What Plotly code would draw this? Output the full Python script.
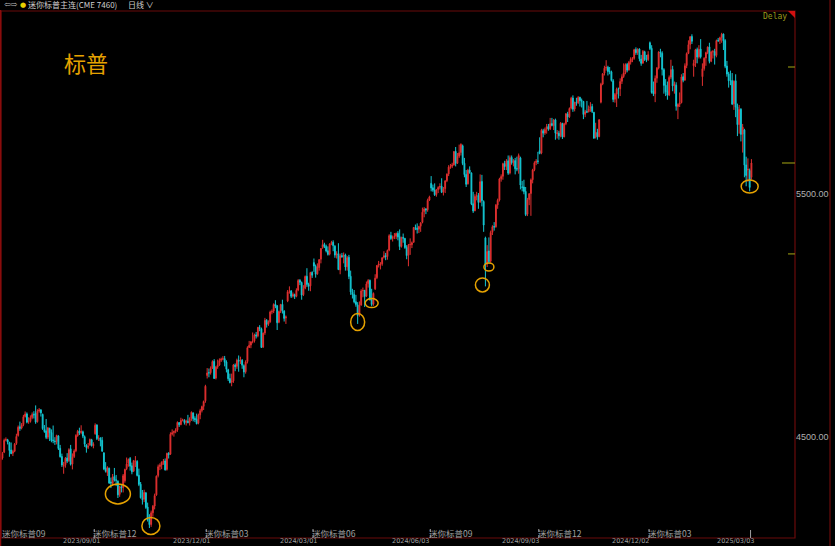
import pandas as pd
import plotly.graph_objects as go

# ---------------- DATA: E-mini S&P front month, daily (open, high, low, close) ----------------
m2306 = [(4406,4420,4398,4411),(4412,4437,4405,4431),(4436,4492,4432,4485)]
m2307 = [(4486,4497,4481,4488),(4487,4491,4468,4478),(4476,4479,4417,4443),(4445,4476,4428,4430),
         (4432,4446,4420,4439),(4440,4474,4436,4469),(4472,4512,4466,4501),(4505,4546,4500,4539),
         (4541,4562,4524,4534),(4536,4556,4530,4549),(4550,4590,4543,4582),(4583,4604,4579,4593),
         (4594,4600,4555,4560),(4562,4580,4553,4562),(4563,4588,4558,4578),(4579,4600,4572,4591),
         (4592,4605,4575,4590),(4597,4629,4553,4560),(4562,4613,4558,4605),(4606,4618,4599,4610)]
m2308 = [(4610,4614,4583,4598),(4592,4595,4528,4533),(4530,4548,4516,4521),(4524,4573,4490,4497),
         (4498,4540,4490,4536),(4534,4537,4482,4516),(4517,4530,4477,4484),(4486,4546,4473,4484),
         (4482,4498,4466,4480),(4480,4508,4468,4505),(4503,4506,4445,4451),(4452,4466,4414,4417),
         (4418,4430,4375,4383),(4378,4396,4347,4382),(4384,4416,4372,4411),(4412,4432,4391,4399),
         (4401,4452,4396,4446),(4450,4466,4381,4386),(4387,4431,4365,4415),(4418,4448,4412,4441),
         (4442,4510,4436,4505),(4504,4528,4500,4522),(4523,4537,4507,4515)]
m2309 = [(4517,4547,4510,4522),(4520,4525,4494,4502),(4500,4505,4458,4469),(4466,4469,4434,4455),
         (4456,4474,4449,4460),(4465,4492,4463,4489),(4487,4491,4459,4463),(4463,4477,4452,4468),
         (4512,4555,4508,4547),(4548,4551,4486,4492),(4493,4506,4482,4494),(4495,4497,4460,4483),
         (4485,4499,4438,4440),(4433,4436,4362,4367),(4370,4395,4352,4357),(4352,4378,4338,4373),
         (4370,4372,4305,4309),(4313,4331,4288,4309),(4307,4346,4300,4334),(4336,4371,4315,4321)]
m2310 = [(4322,4342,4296,4320),(4316,4320,4247,4260),(4262,4298,4252,4294),(4293,4300,4270,4289),
         (4290,4346,4270,4339),(4318,4368,4310,4365),(4368,4414,4362,4387),(4390,4410,4376,4406),
         (4410,4416,4360,4378),(4380,4393,4345,4355),(4358,4404,4354,4401),(4398,4420,4375,4399),
         (4398,4403,4336,4340),(4341,4368,4296,4303),(4304,4313,4245,4248),(4246,4280,4220,4240),
         (4242,4281,4230,4270),(4268,4272,4202,4208),(4210,4228,4150,4158),(4160,4180,4123,4137),
         (4138,4195,4128,4186),(4186,4218,4170,4213)]
m2311 = [(4214,4265,4200,4257),(4260,4340,4256,4337),(4340,4385,4332,4376),(4377,4390,4362,4382),
         (4383,4398,4366,4395),(4396,4408,4384,4399),(4400,4410,4360,4363),(4365,4434,4360,4431),
         (4432,4436,4410,4425),(4428,4518,4425,4510),(4511,4530,4505,4516),(4517,4525,4500,4521),
         (4522,4535,4514,4527),(4528,4563,4520,4559),(4558,4560,4540,4549),(4550,4578,4547,4567),
         (4568,4574,4563,4569),(4568,4572,4550,4558),(4559,4570,4546,4563),(4564,4590,4555,4558),
         (4559,4580,4546,4575)]
m2312 = [(4576,4604,4565,4601),(4598,4600,4563,4574),(4575,4584,4560,4571),(4572,4595,4551,4553),
         (4556,4595,4551,4589),(4590,4615,4572,4607),(4608,4628,4600,4624),(4625,4649,4610,4645),
         (4648,4714,4640,4708),(4752,4783,4740,4763),(4764,4781,4745,4763),(4764,4790,4756,4782),
         (4783,4815,4779,4810),(4811,4820,4738,4740),(4742,4792,4736,4787),(4788,4818,4780,4795),
         (4796,4823,4792,4814),(4815,4826,4808,4820),(4821,4832,4815,4821),(4822,4833,4790,4807)]
m2401 = [(4808,4815,4765,4778),(4776,4780,4730,4739),(4740,4760,4720,4723),(4724,4760,4708,4730),
         (4730,4800,4722,4796),(4795,4802,4770,4789),(4790,4822,4780,4815),(4816,4835,4768,4811),
         (4812,4830,4800,4815),(4815,4820,4780,4795),(4793,4798,4745,4767),(4768,4815,4760,4808),
         (4810,4873,4802,4867),(4868,4895,4866,4877),(4878,4894,4865,4891),(4892,4930,4885,4893),
         (4895,4925,4888,4919),(4920,4932,4905,4915),(4916,4953,4910,4951),(4950,4960,4935,4947),
         (4945,4950,4866,4868)]
m2402 = [(4870,4930,4866,4927),(4928,4990,4920,4980),(4980,4985,4950,4963),(4964,4980,4957,4973),
         (4974,5020,4970,5014),(5015,5025,5005,5016),(5018,5050,5010,5045),(5046,5063,5030,5038),
         (5040,5043,4940,4970),(4972,5020,4968,5016),(5017,5048,5010,5045),(5046,5065,5008,5020),
         (5018,5022,4975,4988),(4990,5000,4965,4994),(5060,5105,5055,5098),(5100,5120,5090,5100),
         (5101,5105,5072,5079),(5080,5095,5074,5087),(5086,5090,5068,5078),(5079,5112,5075,5104)]
m2403 = [(5105,5150,5100,5144),(5145,5150,5125,5137),(5136,5140,5065,5084),(5086,5125,5080,5110),
         (5112,5165,5108,5161),(5162,5195,5118,5128),(5128,5135,5102,5120),(5122,5180,5100,5177),
         (5178,5182,5155,5166),(5218,5235,5180,5204),(5203,5210,5156,5170),(5172,5215,5168,5200),
         (5198,5233,5185,5230),(5232,5278,5215,5276),(5280,5312,5275,5292),(5293,5300,5278,5284),
         (5285,5292,5260,5266),(5267,5285,5247,5252),(5253,5298,5248,5295),(5296,5308,5290,5301)]
m2404 = [(5302,5310,5265,5288),(5286,5290,5238,5249),(5250,5265,5235,5254),(5255,5298,5188,5189),
         (5188,5255,5170,5246),(5247,5258,5238,5242),(5243,5260,5215,5249),(5250,5255,5185,5200),
         (5201,5245,5185,5238),(5240,5250,5150,5161),(5162,5185,5085,5097),(5096,5110,5070,5086),
         (5087,5105,5050,5056),(5057,5085,5036,5045),(5044,5055,4965,5000),(5002,5058,4995,5042),
         (5043,5108,5040,5101),(5102,5115,5075,5103),(5104,5105,5035,5078),(5080,5140,5076,5130),
         (5131,5150,5115,5144),(5145,5148,5062,5064)]
m2405 = [(5066,5110,5038,5045),(5047,5095,5040,5091),(5110,5170,5105,5154),(5156,5208,5150,5206),
         (5207,5225,5198,5212),(5210,5220,5190,5212),(5213,5240,5205,5238),(5240,5265,5235,5246),
         (5247,5258,5228,5242),(5243,5272,5230,5268),(5270,5335,5265,5329),(5330,5345,5312,5317),
         (5318,5330,5305,5322),(5323,5340,5315,5326),(5327,5342,5315,5338),(5339,5348,5310,5324),
         (5325,5355,5270,5284),(5285,5325,5280,5321),(5322,5338,5300,5319),(5318,5320,5275,5280),
         (5281,5290,5232,5247),(5248,5295,5203,5290)]
m2406 = [(5292,5318,5250,5293),(5292,5305,5278,5300),(5302,5365,5300,5363),(5362,5375,5352,5360),
         (5360,5380,5338,5355),(5356,5370,5340,5367),(5368,5385,5345,5381),(5384,5445,5380,5426),
         (5428,5447,5405,5439),(5440,5442,5418,5435),(5436,5482,5428,5475),(5476,5494,5472,5489),
         (5545,5575,5512,5526),(5527,5540,5510,5517),(5518,5545,5493,5498),(5499,5522,5490,5519),
         (5520,5533,5505,5528),(5529,5545,5520,5532),(5533,5566,5505,5508)]
m2407 = [(5509,5530,5495,5522),(5523,5558,5505,5555),(5556,5586,5550,5583),(5584,5620,5575,5612),
         (5613,5625,5605,5615),(5616,5630,5608,5620),(5621,5678,5618,5676),(5677,5695,5615,5627),
         (5628,5670,5625,5656),(5657,5705,5650,5671),(5672,5710,5660,5706),(5700,5705,5620,5627),
         (5628,5650,5570,5581),(5582,5600,5530,5541),(5543,5605,5540,5599),(5600,5615,5585,5589),
         (5588,5590,5455,5460),(5461,5510,5423,5431),(5432,5500,5430,5491),(5492,5510,5475,5494),
         (5495,5505,5440,5466),(5468,5582,5465,5552)]
m2408 = [(5553,5580,5450,5473),(5470,5475,5345,5373),(5320,5325,5120,5210),(5212,5290,5200,5264),
         (5266,5322,5214,5222),(5224,5350,5218,5342),(5343,5372,5332,5366),(5367,5385,5350,5365),
         (5366,5460,5362,5455),(5456,5482,5440,5475),(5476,5568,5470,5563),(5564,5582,5552,5573),
         (5574,5630,5560,5626),(5627,5638,5600,5614),(5615,5645,5600,5637),(5638,5660,5580,5587),
         (5588,5660,5582,5651),(5652,5660,5622,5630),(5631,5645,5615,5638),(5639,5650,5582,5605),
         (5606,5655,5595,5604),(5605,5668,5585,5660)]
m2409 = [(5650,5655,5520,5538),(5530,5555,5512,5529),(5530,5560,5500,5511),(5512,5530,5410,5416),
         (5418,5485,5410,5477),(5478,5505,5455,5502),(5503,5565,5411,5559),(5560,5605,5545,5600),
         (5601,5636,5595,5630),(5631,5645,5620,5636),(5637,5675,5625,5636),(5680,5735,5665,5668),
         (5670,5770,5665,5764),(5762,5770,5735,5752),(5753,5775,5745,5767),(5768,5790,5750,5779),
         (5780,5790,5762,5769),(5770,5815,5765,5791),(5792,5815,5780,5784),(5783,5810,5765,5806)]
m2410 = [(5807,5812,5725,5752),(5750,5765,5730,5753),(5752,5762,5725,5741),(5742,5798,5735,5793),
         (5792,5795,5728,5736),(5737,5795,5735,5791),(5792,5835,5785,5832),(5831,5840,5798,5819),
         (5820,5858,5815,5854),(5855,5902,5850,5896),(5897,5908,5840,5851),(5852,5882,5842,5879),
         (5880,5898,5865,5877),(5878,5905,5872,5899),(5900,5902,5862,5886),(5887,5895,5858,5884),
         (5883,5885,5810,5829),(5830,5848,5818,5840),(5841,5885,5835,5839),(5840,5866,5838,5852),
         (5853,5880,5840,5861),(5862,5873,5835,5841),(5838,5840,5728,5732)]
m2411 = [(5735,5795,5730,5756),(5755,5770,5725,5737),(5738,5810,5735,5807),(5880,5960,5875,5954),
         (5955,6000,5950,5997),(6000,6030,5990,6020),(6021,6053,6010,6023),(6024,6030,5990,6006),
         (6007,6025,5995,6006),(6005,6010,5965,5969),(5968,5975,5880,5891),(5892,5918,5878,5912),
         (5913,5940,5860,5934),(5935,5940,5895,5934),(5935,5978,5905,5965),(5966,5995,5955,5985),
         (5986,6040,5980,6001),(6002,6040,5995,6035),(6036,6042,6003,6012),(6013,6050,6010,6044)]
m2412 = [(6045,6065,6035,6057),(6056,6066,6045,6060),(6061,6100,6055,6096),(6097,6106,6075,6084),
         (6085,6102,6075,6098),(6099,6102,6048,6059),(6058,6075,6030,6040),(6041,6095,6038,6089),
         (6088,6092,6050,6056),(6057,6075,6045,6055),(6056,6090,6050,6076),(6125,6130,6095,6101),
         (6102,6115,5915,5920),(5925,5965,5905,5914),(5915,5990,5880,5978),(5979,6025,5960,6020),
         (6021,6090,6015,6086),(6087,6100,6065,6083),(6082,6090,5990,6015),(6014,6020,5915,5949),
         (5950,5975,5905,5923)]
m2501 = [(5925,5965,5890,5909),(5910,5990,5905,5982),(5983,6055,5975,6014),(6015,6030,5925,5947),
         (5948,5965,5915,5955),(5950,5962,5845,5863),(5862,5875,5810,5870),(5871,5920,5860,5877),
         (5878,5995,5875,5984),(5985,6000,5962,5970),(5971,6040,5968,6030),(6031,6085,6020,6080),
         (6081,6135,6078,6117),(6118,6152,6098,6150),(6151,6160,6120,6131),(6030,6055,5985,6040),
         (6041,6100,6025,6096),(6097,6105,6040,6066),(6067,6115,6060,6098),(6099,6140,6060,6067)]
m2502 = [(5985,6040,5947,6018),(6019,6065,6010,6061),(6062,6088,6030,6084),(6085,6110,6078,6107),
         (6108,6125,6040,6048),(6049,6092,6045,6087),(6088,6095,6060,6088),(6089,6100,6035,6072),
         (6073,6138,6065,6134),(6135,6145,6128,6134),(6135,6150,6120,6146),(6147,6166,6125,6160),
         (6161,6163,6095,6133),(6134,6140,6020,6028),(6029,6050,5985,5996),(5997,6005,5940,5968),
         (5969,6010,5950,5968),(5969,6000,5868,5872),(5873,5970,5848,5966)]
m2503 = [(5968,5995,5818,5859),(5860,5874,5740,5787),(5788,5868,5750,5850),(5851,5855,5718,5747),
         (5748,5790,5672,5777),(5765,5770,5570,5620),(5621,5655,5533,5577),(5600,5648,5552,5603),
         (5598,5606,5512,5528),(5570,5645,5560,5629)]

months = [m2306, m2307, m2308, m2309, m2310, m2311, m2312, m2401, m2402, m2403, m2404,
          m2405, m2406, m2407, m2408, m2409, m2410, m2411, m2412, m2501, m2502, m2503]

first_day, last_day = "2023-06-28", "2025-03-14"
exchange_holidays = ["2023-07-04", "2023-09-04", "2023-11-23", "2023-12-25", "2024-01-01",
                     "2024-01-15", "2024-02-19", "2024-03-29", "2024-05-27", "2024-06-19",
                     "2024-07-04", "2024-09-02", "2024-11-28", "2024-12-25", "2025-01-01",
                     "2025-01-09", "2025-01-20", "2025-02-17"]

# contract rolls of the continuous series and their labels
roll_dates = ["2023-09-14", "2023-12-14", "2024-03-14", "2024-06-20", "2024-09-18", "2024-12-17"]
roll_names = ["迷你标普12", "迷你标普03", "迷你标普06", "迷你标普09", "迷你标普12", "迷你标普03"]
first_contract = "迷你标普09"
last_roll_date = "2025-03-14"

date_ticks = ["2023-09-01", "2023-12-01", "2024-03-01", "2024-06-03", "2024-09-03",
              "2024-12-02", "2025-03-03"]

y_ticks = [4500, 5500]
y_ticktext = ["4500.00", "5500.00"]

# hand-drawn circles around lows: (date, price)
circle_dates = ["2023-10-03", "2023-10-27", "2024-04-19", "2024-05-01", "2024-08-05",
                "2024-08-07", "2025-03-13"]
circle_prices = [4264, 4132, 4973, 5051, 5126, 5200, 5532]
side_marks = [6025, 5254]   # small price markers on the right edge

# ---------------- build ----------------
rows = [r for m in months for r in m]
days = [d for d in pd.bdate_range(first_day, last_day)
        if d.strftime("%Y-%m-%d") not in set(exchange_holidays)]
n = min(len(days), len(rows))
rows, days = rows[:n], days[:n]
day_str = [d.strftime("%Y-%m-%d") for d in days]
idx = {s: i for i, s in enumerate(day_str)}
xs = list(range(n))
opens = [r[0] for r in rows]
highs = [r[1] for r in rows]
lows = [r[2] for r in rows]
closes = [r[3] for r in rows]

W, H = 835, 546
PL, PR, PT, PB = 1, 795, 11, 538          # plot area in pixels
X0, X1 = 0.2, 453.9
Y0, Y1 = 4082, 6256

def px_x(x):
    return (x - PL) / (PR - PL)

def px_y(y):
    return 1 - (y - PT) / (PB - PT)

RED = "#e03030"
CYAN = "#14c6d2"
BORDER = "#6a0a0a"
GOLD = "#e6a200"
GREY = "#a0a0a0"
OLIVE = "#8c8c10"

fig = go.Figure()
fig.add_trace(go.Candlestick(
    x=xs, open=opens, high=highs, low=lows, close=closes,
    increasing=dict(line=dict(color=RED, width=1), fillcolor=RED),
    decreasing=dict(line=dict(color=CYAN, width=1), fillcolor=CYAN),
    whiskerwidth=0, hoverinfo="skip", showlegend=False))

shapes = []
annotations = []

# plot frame
shapes.append(dict(type="rect", xref="paper", yref="paper", x0=0, x1=1, y0=0, y1=1,
                   line=dict(color=BORDER, width=1.2), layer="above"))
shapes.append(dict(type="line", xref="paper", yref="paper", x0=px_x(830), x1=px_x(830),
                   y0=px_y(0), y1=px_y(546), line=dict(color=BORDER, width=1.2)))
shapes.append(dict(type="line", xref="paper", yref="paper", x0=px_x(0.5), x1=px_x(0.5),
                   y0=px_y(10), y1=px_y(546), line=dict(color="#8a0c0c", width=1.5)))
# red corner triangle
shapes.append(dict(type="path", xref="paper", yref="paper",
                   path=f"M {px_x(788)} {px_y(11)} L {px_x(795)} {px_y(11)} L {px_x(795)} {px_y(18)} Z",
                   fillcolor="#d01010", line=dict(width=0)))

# circles (pixel sizes, anchored at the low they mark)
circle_px = [(25, 20, 0), (18, 17, 1.5), (14, 17, 0), (13, 9, 0), (14, 14, -3), (10, 8, 0), (17, 13, 0)]
for (d, p), (w, h, dx) in zip(zip(circle_dates, circle_prices), circle_px):
    shapes.append(dict(type="circle", xref="x", yref="y", xsizemode="pixel", ysizemode="pixel",
                       xanchor=idx[d], yanchor=p, x0=dx - w / 2, x1=dx + w / 2, y0=-h / 2, y1=h / 2,
                       line=dict(color=GOLD, width=1.5)))

# right-edge price markers
last_close = closes[-1]
shapes.append(dict(type="line", xref="paper", yref="y", x0=px_x(782), x1=px_x(795),
                   y0=last_close, y1=last_close, line=dict(color=OLIVE, width=1.2)))
for p in side_marks:
    shapes.append(dict(type="line", xref="paper", yref="y", x0=px_x(788), x1=px_x(795),
                       y0=p, y1=p, line=dict(color=OLIVE, width=1.2)))

# contract labels along the bottom (inside the frame)
lab_font = dict(family="Noto Sans CJK SC", size=8.5, color=GREY)
annotations.append(dict(x=px_x(1), y=px_y(533), xref="paper", yref="paper", text=first_contract,
                        showarrow=False, xanchor="left", yanchor="middle", borderpad=0, font=lab_font))
for d, name in zip(roll_dates, roll_names):
    xi = idx[d] - 0.5
    shapes.append(dict(type="line", xref="x", yref="paper", x0=xi, x1=xi, y0=px_y(538), y1=px_y(529),
                       line=dict(color=GREY, width=1, dash="dot")))
    annotations.append(dict(x=xi, y=px_y(533), xref="x", yref="paper", text=name, showarrow=False,
                            xanchor="left", yanchor="middle", xshift=-2, borderpad=0, font=lab_font))
xi = idx[last_roll_date] - 0.5
shapes.append(dict(type="line", xref="x", yref="paper", x0=xi, x1=xi, y0=px_y(538), y1=px_y(530),
                   line=dict(color=GREY, width=1)))

# date labels (bottom row, below the frame)
for d in date_ticks:
    annotations.append(dict(x=idx[d], y=px_y(546), xref="x", yref="paper", text=d.replace("-", "/"),
                            showarrow=False, xanchor="center", yanchor="bottom", borderpad=0,
                            font=dict(family="DejaVu Sans", size=6.5, color=GREY)))

# header
hdr = dict(family="Noto Sans CJK SC", size=8, color="#cfcfcf")
annotations += [
    dict(x=px_x(2), y=px_y(5), xref="paper", yref="paper", text="⇦⇨", showarrow=False,
         xanchor="left", yanchor="middle", font=dict(family="DejaVu Sans", size=8, color="#bbbbbb")),
    dict(x=px_x(18), y=px_y(5), xref="paper", yref="paper", text="●", showarrow=False,
         xanchor="left", yanchor="middle", font=dict(family="DejaVu Sans", size=7, color="#e8d000")),
    dict(x=px_x(26), y=px_y(5), xref="paper", yref="paper", text="迷你标普主连(CME 7460)",
         showarrow=False, xanchor="left", yanchor="middle", font=hdr),
    dict(x=px_x(126), y=px_y(5), xref="paper", yref="paper", text="日线 ∨", showarrow=False,
         xanchor="left", yanchor="middle", font=hdr),
    dict(x=px_x(789), y=px_y(17), xref="paper", yref="paper", text="Delay", showarrow=False,
         xanchor="right", yanchor="middle", font=dict(family="DejaVu Sans Mono", size=8, color="#9a9a1a")),
    dict(x=px_x(86), y=px_y(62), xref="paper", yref="paper", text="标普", showarrow=False,
         xanchor="center", yanchor="middle", font=dict(family="Noto Sans CJK SC", size=22, color=GOLD)),
]

fig.update_layout(
    width=W, height=H,
    margin=dict(l=PL, r=W - PR, t=PT, b=H - PB, autoexpand=False),
    paper_bgcolor="black", plot_bgcolor="black",
    showlegend=False,
    xaxis=dict(range=[X0, X1], showgrid=False, zeroline=False, showticklabels=False, ticks="",
               rangeslider=dict(visible=False), fixedrange=True, showline=False),
    yaxis=dict(range=[Y0, Y1], side="right", showgrid=False, zeroline=False, ticks="",
               tickvals=y_ticks, ticktext=y_ticktext, showline=False, fixedrange=True,
               tickfont=dict(family="Liberation Sans", size=9, color="#b0b0b0")),
    shapes=shapes, annotations=annotations,
)

fig.write_html("out.html", config={"displayModeBar": False},
               post_script="document.body.style.margin='0px';document.body.style.background='black';")
